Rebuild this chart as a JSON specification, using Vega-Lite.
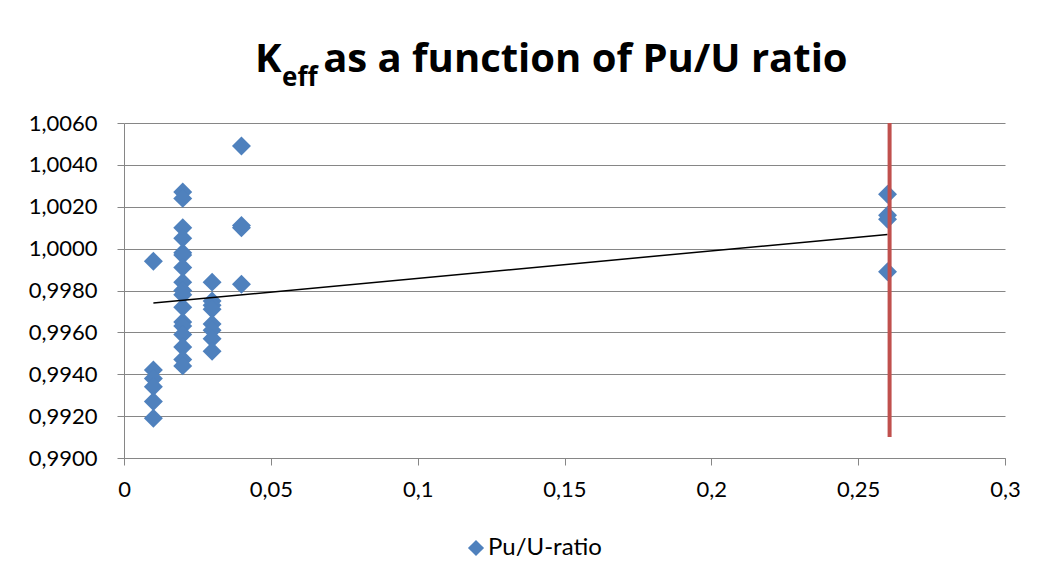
{
  "$schema": "https://vega.github.io/schema/vega-lite/v6.json",
  "width": 881,
  "height": 335,
  "autosize": {"type": "none"},
  "padding": {"left": 124, "top": 123, "right": 34, "bottom": 125},
  "background": "white",
  "title": {
    "text": "K\u00a0\u00a0\u00a0\u00a0as a function of Pu/U ratio",
    "subtitle": "\u200b\u00a0\u00a0\u00a0\u00a0eff",
    "anchor": "start",
    "frame": "group",
    "dx": 131,
    "offset": 21,
    "font": "Open Sans",
    "fontSize": 40,
    "fontWeight": "bold",
    "color": "black",
    "subtitleFont": "Open Sans",
    "subtitleFontSize": 26,
    "subtitleFontWeight": "bold",
    "subtitleColor": "black",
    "subtitlePadding": -15
  },
  "config": {
    "locale": {"number": {"decimal": ",", "thousands": " ", "grouping": [3], "currency": ["", " €"]}},
    "view": {"stroke": null},
    "font": "Lato",
    "axis": {
      "domainColor": "#868686",
      "tickColor": "#868686",
      "gridColor": "#868686",
      "tickSize": 7,
      "labelFont": "Lato",
      "labelFontSize": 22,
      "labelColor": "black",
      "title": null
    }
  },
  "datasets": {
    "points": [
      {"ratio": 0.01, "keff": 0.9994, "series": "Pu/U-ratio"},
      {"ratio": 0.01, "keff": 0.9942, "series": "Pu/U-ratio"},
      {"ratio": 0.01, "keff": 0.9938, "series": "Pu/U-ratio"},
      {"ratio": 0.01, "keff": 0.9934, "series": "Pu/U-ratio"},
      {"ratio": 0.01, "keff": 0.9927, "series": "Pu/U-ratio"},
      {"ratio": 0.01, "keff": 0.9919, "series": "Pu/U-ratio"},
      {"ratio": 0.02, "keff": 1.0027, "series": "Pu/U-ratio"},
      {"ratio": 0.02, "keff": 1.0024, "series": "Pu/U-ratio"},
      {"ratio": 0.02, "keff": 1.0010, "series": "Pu/U-ratio"},
      {"ratio": 0.02, "keff": 1.0005, "series": "Pu/U-ratio"},
      {"ratio": 0.02, "keff": 0.9998, "series": "Pu/U-ratio"},
      {"ratio": 0.02, "keff": 0.9997, "series": "Pu/U-ratio"},
      {"ratio": 0.02, "keff": 0.9991, "series": "Pu/U-ratio"},
      {"ratio": 0.02, "keff": 0.9984, "series": "Pu/U-ratio"},
      {"ratio": 0.02, "keff": 0.9980, "series": "Pu/U-ratio"},
      {"ratio": 0.02, "keff": 0.9978, "series": "Pu/U-ratio"},
      {"ratio": 0.02, "keff": 0.9972, "series": "Pu/U-ratio"},
      {"ratio": 0.02, "keff": 0.9965, "series": "Pu/U-ratio"},
      {"ratio": 0.02, "keff": 0.9963, "series": "Pu/U-ratio"},
      {"ratio": 0.02, "keff": 0.9959, "series": "Pu/U-ratio"},
      {"ratio": 0.02, "keff": 0.9953, "series": "Pu/U-ratio"},
      {"ratio": 0.02, "keff": 0.9947, "series": "Pu/U-ratio"},
      {"ratio": 0.02, "keff": 0.9944, "series": "Pu/U-ratio"},
      {"ratio": 0.03, "keff": 0.9984, "series": "Pu/U-ratio"},
      {"ratio": 0.03, "keff": 0.9975, "series": "Pu/U-ratio"},
      {"ratio": 0.03, "keff": 0.9973, "series": "Pu/U-ratio"},
      {"ratio": 0.03, "keff": 0.9971, "series": "Pu/U-ratio"},
      {"ratio": 0.03, "keff": 0.9964, "series": "Pu/U-ratio"},
      {"ratio": 0.03, "keff": 0.9961, "series": "Pu/U-ratio"},
      {"ratio": 0.03, "keff": 0.9957, "series": "Pu/U-ratio"},
      {"ratio": 0.03, "keff": 0.9951, "series": "Pu/U-ratio"},
      {"ratio": 0.04, "keff": 1.0049, "series": "Pu/U-ratio"},
      {"ratio": 0.04, "keff": 1.0011, "series": "Pu/U-ratio"},
      {"ratio": 0.04, "keff": 1.0010, "series": "Pu/U-ratio"},
      {"ratio": 0.04, "keff": 0.9983, "series": "Pu/U-ratio"},
      {"ratio": 0.26, "keff": 1.0026, "series": "Pu/U-ratio"},
      {"ratio": 0.26, "keff": 1.0016, "series": "Pu/U-ratio"},
      {"ratio": 0.26, "keff": 1.0014, "series": "Pu/U-ratio"},
      {"ratio": 0.26, "keff": 0.9989, "series": "Pu/U-ratio"}
    ],
    "trend": [
      {"ratio": 0.01, "keff": 0.9974},
      {"ratio": 0.26, "keff": 1.00068}
    ],
    "marker": [
      {"ratio": 0.2607, "top": 1.006, "bottom": 0.991}
    ]
  },
  "layer": [
    {
      "data": {"name": "points"},
      "mark": {"type": "point", "shape": "diamond", "filled": true, "size": 360, "opacity": 1},
      "encoding": {
        "x": {
          "field": "ratio", "type": "quantitative",
          "scale": {"domain": [0, 0.3], "nice": false, "zero": false},
          "axis": {"values": [0, 0.05, 0.1, 0.15, 0.2, 0.25, 0.3], "format": ".2~f", "grid": false, "labelPadding": 14, "labelFlush": false}
        },
        "y": {
          "field": "keff", "type": "quantitative",
          "scale": {"domain": [0.99, 1.006], "nice": false, "zero": false},
          "axis": {"values": [0.99, 0.992, 0.994, 0.996, 0.998, 1.0, 1.002, 1.004, 1.006], "format": ".4f", "grid": true, "labelPadding": 20}
        },
        "color": {
          "field": "series", "type": "nominal",
          "scale": {"range": ["#4F81BD"]},
          "legend": {
            "title": null,
            "orient": "none",
            "legendX": 340,
            "legendY": 413,
            "symbolType": "diamond",
            "symbolSize": 260,
            "labelFont": "Lato",
            "labelFontSize": 24,
            "labelColor": "black",
            "labelOffset": 0
          }
        }
      }
    },
    {
      "data": {"name": "trend"},
      "mark": {"type": "line", "color": "black", "strokeWidth": 1.5},
      "encoding": {
        "x": {"field": "ratio", "type": "quantitative"},
        "y": {"field": "keff", "type": "quantitative"}
      }
    },
    {
      "data": {"name": "marker"},
      "mark": {"type": "rule", "color": "#C0504D", "strokeWidth": 4},
      "encoding": {
        "x": {"field": "ratio", "type": "quantitative"},
        "y": {"field": "top", "type": "quantitative"},
        "y2": {"field": "bottom"}
      }
    }
  ]
}
